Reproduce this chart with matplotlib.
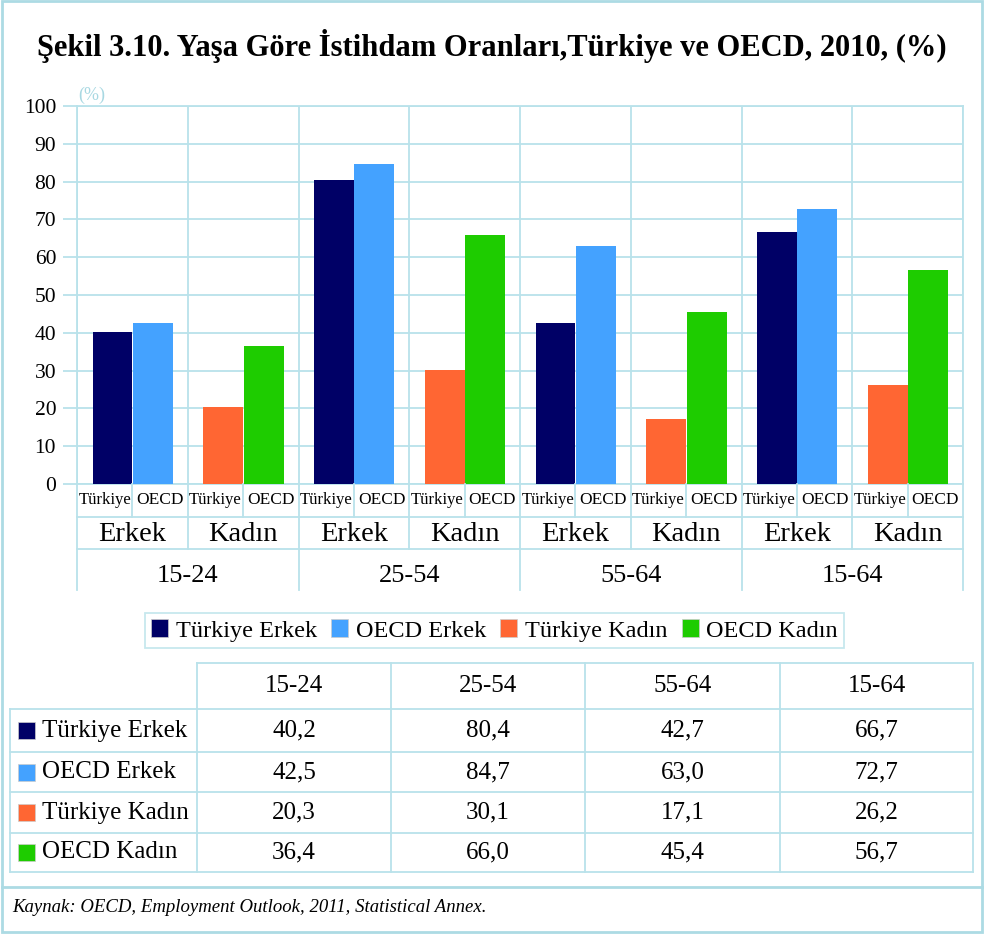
import matplotlib
matplotlib.use("Agg")
import matplotlib.pyplot as plt
from matplotlib.lines import Line2D
from matplotlib.patches import Rectangle, Patch
from matplotlib.transforms import blended_transform_factory

plt.rcParams['font.family'] = ['Liberation Serif', 'DejaVu Serif']

# data
age_groups = ['15-24', '25-54', '55-64', '15-64']
sexes = ['Erkek', 'Kadın']
countries = ['Türkiye', 'OECD']
series_names = ['Türkiye Erkek', 'OECD Erkek', 'Türkiye Kadın', 'OECD Kadın']
turkiye_erkek = [40.2, 80.4, 42.7, 66.7]
oecd_erkek = [42.5, 84.7, 63.0, 72.7]
turkiye_kadin = [20.3, 30.1, 17.1, 26.2]
oecd_kadin = [36.4, 66.0, 45.4, 56.7]
series_vals = [turkiye_erkek, oecd_erkek, turkiye_kadin, oecd_kadin]
colors = ['#000066', '#44a2ff', '#ff6633', '#1ecc00']
yticks = list(range(0, 101, 10))

title = 'Şekil 3.10. Yaşa Göre İstihdam Oranları,Türkiye ve OECD, 2010, (%)'
source = 'Kaynak: OECD, Employment Outlook, 2011, Statistical Annex.'

W, H = 984, 934
grid_c = '#b9e2ea'
border_c = '#acdbe4'

def fx(x):
    return x / W

def fy(y):
    return 1 - y / H

fig = plt.figure(figsize=(W / 100, H / 100), dpi=100)

# plot area
ax = fig.add_axes([fx(77), fy(484), fx(963 - 77), (484 - 106) / H])
ax.set_xlim(0, 8)
ax.set_ylim(0, 100)

bw = 0.36
for i in range(len(age_groups)):
    for j in range(2):
        k = 2 * i + j
        t_vals = series_vals[2 * j]
        o_vals = series_vals[2 * j + 1]
        ax.bar(k + 0.5 - 0.18, t_vals[i], width=bw, color=colors[2 * j], zorder=3)
        ax.bar(k + 0.5 + 0.185, o_vals[i], width=bw, color=colors[2 * j + 1], zorder=3)

ax.set_yticks(yticks)
ax.set_yticklabels([str(t) for t in yticks], fontsize=15.5)
ax.tick_params(axis='y', length=10, color=grid_c, width=1.3, pad=5)
ax.set_xticks([])
ax.grid(axis='y', color=grid_c, lw=1.3, zorder=0)
for k in range(9):
    ax.axvline(k, color=grid_c, lw=1.3, zorder=1)
for s in ax.spines.values():
    s.set_color(grid_c)
    s.set_linewidth(1.3)

fig.text(fx(78), fy(95), '(%)', color='#a8d8e2', fontsize=13, va='center')

# category axis rows
tr = blended_transform_factory(ax.transData, fig.transFigure)
r0, r1, r2, r3 = fy(484), fy(517), fy(549), fy(590)
for yy in [r1, r2]:
    fig.add_artist(Line2D([0, 8], [yy, yy], transform=tr, color=grid_c, lw=1.3))
for k in range(9):
    bottom = r3 if k % 2 == 0 else r2
    fig.add_artist(Line2D([k, k], [r0, bottom], transform=tr, color=grid_c, lw=1.3))
for k in range(8):
    fig.add_artist(Line2D([k + 0.5, k + 0.5], [r0, r1], transform=tr, color=grid_c, lw=1.3))
    fig.text(k + 0.25, (r0 + r1) / 2, countries[0], transform=tr,
             ha='center', va='center', fontsize=12)
    fig.text(k + 0.75, (r0 + r1) / 2, countries[1], transform=tr,
             ha='center', va='center', fontsize=12.5)
    fig.text(k + 0.5, (r1 + r2) / 2 - 0.002, sexes[k % 2], transform=tr,
             ha='center', va='center', fontsize=20.5)
for i, g in enumerate(age_groups):
    fig.text(2 * i + 1, fy(576), g, transform=tr, ha='center', va='center', fontsize=19)

# title
fig.text(0.5, fy(46), title, ha='center', va='center', fontsize=22, fontweight='bold')

# legend
handles = [Patch(facecolor=c, edgecolor='#cccccc', lw=0.5) for c in colors]
leg = fig.legend(handles, series_names, loc='center', bbox_to_anchor=(fx(494.5), fy(630.5)),
                 ncol=4, fontsize=17.5, frameon=True, fancybox=False,
                 handlelength=0.7, handleheight=0.7, handletextpad=0.3,
                 columnspacing=0.6, borderpad=0.25, borderaxespad=0)
leg.get_frame().set_edgecolor(grid_c)
leg.get_frame().set_linewidth(1.3)

# table
col_x = [10, 197, 391, 585, 780, 973]
row_y = [663, 709, 752, 792, 833, 872]
def hline(x0, x1, y):
    fig.add_artist(Line2D([fx(x0), fx(x1)], [fy(y), fy(y)], color=grid_c, lw=1.3))
def vline(x, y0, y1):
    fig.add_artist(Line2D([fx(x), fx(x)], [fy(y0), fy(y1)], color=grid_c, lw=1.3))

hline(col_x[1], col_x[-1], row_y[0])
for y in row_y[1:]:
    hline(col_x[0], col_x[-1], y)
vline(col_x[0], row_y[1], row_y[-1])
for x in col_x[1:]:
    vline(x, row_y[0], row_y[-1])
for c, g in enumerate(age_groups):
    fig.text(fx((col_x[c + 1] + col_x[c + 2]) / 2), fy((row_y[0] + row_y[1]) / 2), g,
             ha='center', va='center', fontsize=18)
for r, name in enumerate(series_names):
    yc = (row_y[r + 1] + row_y[r + 2]) / 2
    fig.add_artist(Rectangle((fx(18), fy(yc + 8.5)), fx(17), 17 / H, facecolor=colors[r],
                             edgecolor='#cccccc', lw=0.5))
    fig.text(fx(42), fy(yc), name, ha='left', va='center', fontsize=18)
    for c in range(len(age_groups)):
        txt = f'{series_vals[r][c]:.1f}'.replace('.', ',')
        fig.text(fx((col_x[c + 1] + col_x[c + 2]) / 2), fy(yc), txt,
                 ha='center', va='center', fontsize=18)

# outer frame and source
fig.add_artist(Rectangle((fx(2), fy(932)), fx(980), 931 / H, fill=False,
                         edgecolor=border_c, lw=2))
fig.add_artist(Line2D([fx(2), fx(982)], [fy(887), fy(887)], color=border_c, lw=2))
fig.text(fx(12), fy(908), source, ha='left', va='center', fontsize=13.5, style='italic')

fig.savefig('out.png', dpi=100)
